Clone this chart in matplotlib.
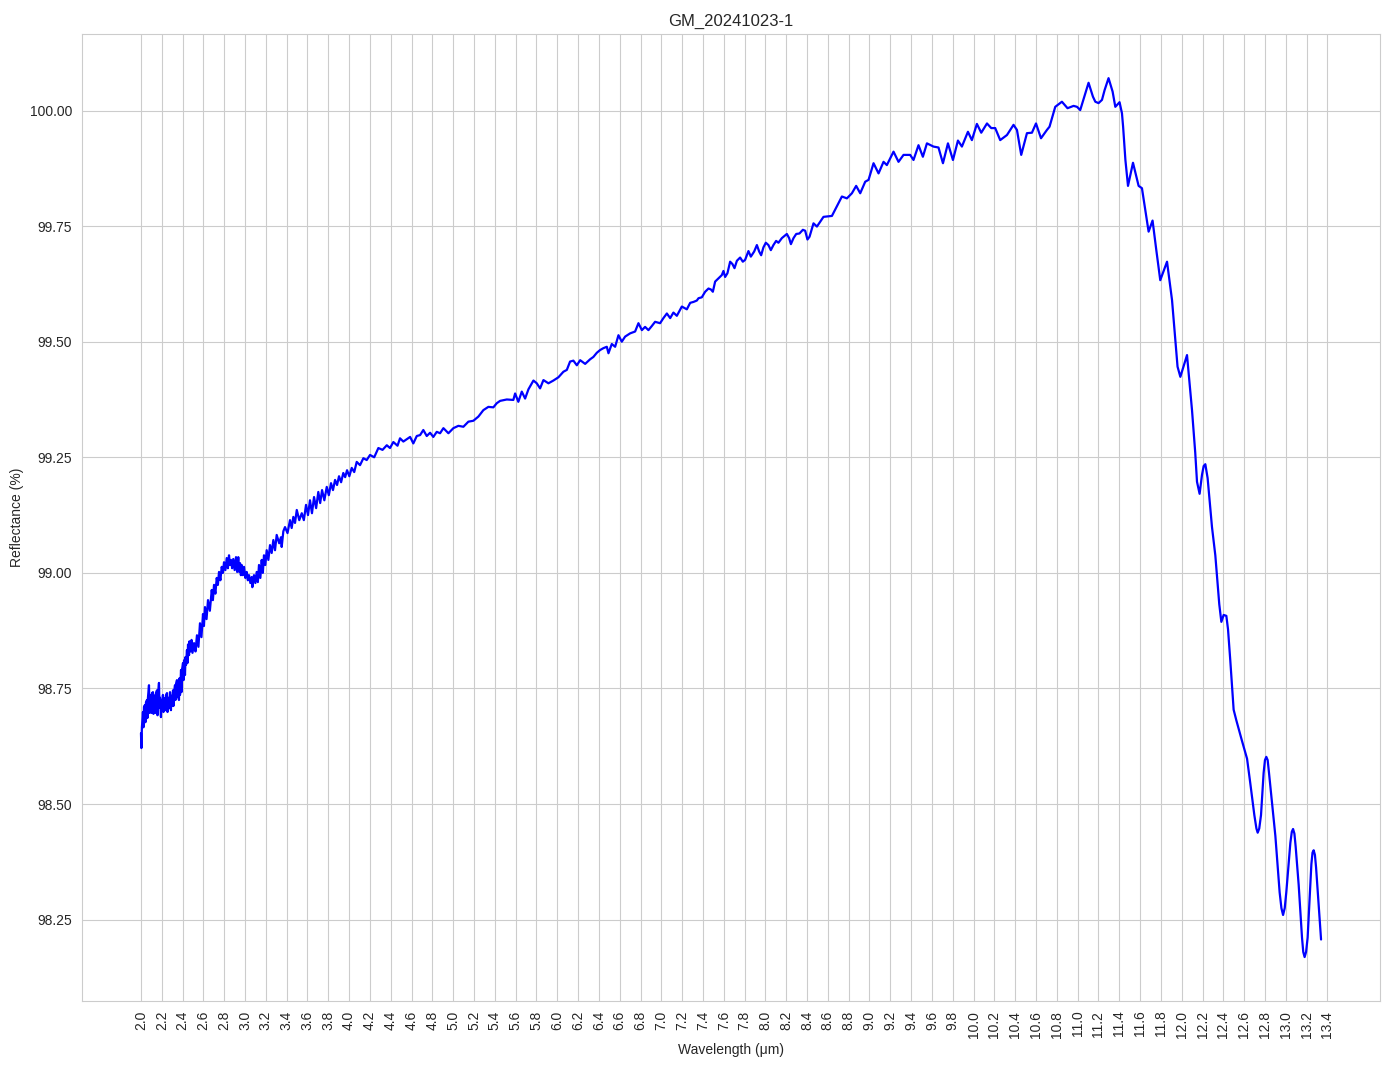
import numpy as np
import matplotlib
matplotlib.use("Agg")
import matplotlib.pyplot as plt
import seaborn as sns

# Wavelength (um) and reflectance (%)
wl_noisy = [2.000, 2.004, 2.009, 2.019, 2.024, 2.029, 2.038, 2.043, 2.048, 2.058, 2.062, 2.067,
            2.077, 2.082, 2.087, 2.096, 2.101, 2.106, 2.115, 2.120, 2.125, 2.135, 2.139, 2.144,
            2.154, 2.159, 2.163, 2.173, 2.178, 2.183, 2.192, 2.197, 2.202, 2.211, 2.216, 2.221,
            2.231, 2.235, 2.240, 2.250, 2.255, 2.260, 2.269, 2.274, 2.279, 2.288, 2.293, 2.298,
            2.308, 2.312, 2.317, 2.327, 2.332, 2.337, 2.346, 2.351, 2.356, 2.365, 2.370, 2.375,
            2.385, 2.389, 2.394, 2.404, 2.409, 2.414, 2.423, 2.428, 2.433, 2.442, 2.447, 2.452,
            2.462, 2.466, 2.476, 2.486, 2.495]
refl_noisy = [98.653, 98.621, 98.666, 98.699, 98.666, 98.710, 98.714, 98.677, 98.720, 98.725, 98.686, 98.730,
              98.757, 98.697, 98.735, 98.736, 98.697, 98.740, 98.742, 98.695, 98.735, 98.731, 98.697, 98.740,
              98.746, 98.692, 98.735, 98.762, 98.708, 98.730, 98.688, 98.725, 98.708, 98.736, 98.699, 98.729,
              98.729, 98.703, 98.735, 98.740, 98.699, 98.730, 98.725, 98.708, 98.742, 98.703, 98.734, 98.712,
              98.746, 98.712, 98.740, 98.757, 98.725, 98.760, 98.768, 98.731, 98.751, 98.725, 98.772, 98.736,
              98.790, 98.742, 98.790, 98.805, 98.768, 98.811, 98.779, 98.818, 98.801, 98.833, 98.805, 98.845,
              98.822, 98.852, 98.830, 98.855, 98.827]

wl_rise = [2.510, 2.524, 2.538, 2.552, 2.567, 2.581, 2.596, 2.605, 2.615, 2.630, 2.644, 2.662,
           2.680, 2.691, 2.702, 2.715, 2.728, 2.739, 2.750, 2.763, 2.776, 2.787, 2.798, 2.811,
           2.824, 2.835, 2.846, 2.855, 2.865, 2.876, 2.887, 2.900, 2.913, 2.924, 2.935, 2.944,
           2.952, 2.960, 2.968, 2.979, 2.990, 3.003, 3.016, 3.027, 3.038, 3.051, 3.064, 3.070,
           3.086, 3.099, 3.112, 3.123, 3.134, 3.147, 3.160, 3.171, 3.182, 3.195, 3.208, 3.224,
           3.240, 3.256, 3.272, 3.288, 3.304, 3.328, 3.345, 3.352, 3.368, 3.384, 3.408, 3.432,
           3.448, 3.464, 3.480, 3.497, 3.521, 3.545, 3.565, 3.586, 3.605, 3.624, 3.643, 3.663,
           3.683, 3.704, 3.722, 3.740, 3.762, 3.785, 3.805, 3.826, 3.845, 3.865, 3.884, 3.903,
           3.923, 3.944, 3.962, 3.980, 4.002, 4.025, 4.049, 4.073, 4.105, 4.137, 4.169, 4.201,
           4.241, 4.281, 4.321, 4.362, 4.393, 4.425, 4.465]
refl_rise = [98.848, 98.830, 98.865, 98.840, 98.891, 98.861, 98.911, 98.885, 98.926, 98.900, 98.941, 98.918,
             98.963, 98.941, 98.974, 98.955, 98.989, 98.974, 99.002, 98.984, 99.013, 99.000, 99.023, 99.006,
             99.032, 99.010, 99.038, 99.017, 99.028, 99.010, 99.030, 99.006, 99.034, 99.002, 99.034, 99.002,
             99.021, 98.995, 99.017, 98.995, 99.013, 98.989, 99.002, 98.984, 98.995, 98.978, 98.991, 98.969,
             98.995, 98.978, 99.002, 98.980, 99.017, 98.989, 99.028, 99.000, 99.038, 99.017, 99.049, 99.028,
             99.060, 99.043, 99.071, 99.049, 99.082, 99.064, 99.077, 99.056, 99.090, 99.099, 99.086, 99.114,
             99.097, 99.121, 99.108, 99.136, 99.114, 99.129, 99.114, 99.147, 99.125, 99.157, 99.129, 99.164,
             99.140, 99.175, 99.151, 99.179, 99.157, 99.186, 99.168, 99.194, 99.179, 99.201, 99.190, 99.209,
             99.196, 99.216, 99.207, 99.222, 99.209, 99.227, 99.218, 99.240, 99.233, 99.248, 99.244, 99.255,
             99.250, 99.270, 99.266, 99.276, 99.270, 99.283, 99.275]

wl_mid = [4.489, 4.521, 4.554, 4.586, 4.617, 4.650, 4.682, 4.713, 4.746, 4.778, 4.809, 4.842,
          4.874, 4.906, 4.954, 5.002, 5.050, 5.098, 5.146, 5.194, 5.242, 5.290, 5.338, 5.386,
          5.419, 5.451, 5.515, 5.578, 5.595, 5.626, 5.659, 5.691, 5.723, 5.771, 5.803, 5.835,
          5.867, 5.915, 5.963, 6.011, 6.059, 6.092, 6.123, 6.155, 6.188, 6.220, 6.268, 6.316,
          6.347, 6.380, 6.412, 6.443, 6.476, 6.492, 6.524, 6.556, 6.588, 6.620, 6.652, 6.700,
          6.748, 6.780, 6.813, 6.844, 6.876, 6.909, 6.940, 6.988, 7.020, 7.053, 7.085, 7.116,
          7.149, 7.197, 7.245, 7.277, 7.309]
refl_mid = [99.291, 99.284, 99.289, 99.294, 99.280, 99.296, 99.298, 99.309, 99.296, 99.303, 99.294, 99.305,
            99.302, 99.313, 99.302, 99.313, 99.318, 99.316, 99.327, 99.329, 99.338, 99.352, 99.359, 99.358,
            99.367, 99.372, 99.375, 99.374, 99.388, 99.370, 99.392, 99.377, 99.397, 99.416, 99.410, 99.399,
            99.417, 99.410, 99.416, 99.423, 99.435, 99.439, 99.457, 99.459, 99.449, 99.460, 99.452, 99.462,
            99.467, 99.476, 99.482, 99.486, 99.489, 99.475, 99.495, 99.489, 99.514, 99.500, 99.511, 99.518,
            99.522, 99.540, 99.525, 99.532, 99.525, 99.534, 99.543, 99.540, 99.551, 99.561, 99.551, 99.563,
            99.556, 99.576, 99.570, 99.584, 99.586]

wl_upper = [7.341, 7.357, 7.389, 7.421, 7.453, 7.476, 7.495, 7.517, 7.549, 7.581, 7.597, 7.613,
            7.635, 7.661, 7.683, 7.703, 7.726, 7.757, 7.783, 7.805, 7.837, 7.860, 7.892, 7.918,
            7.940, 7.959, 7.981, 8.004, 8.029, 8.052, 8.077, 8.103, 8.125, 8.158, 8.206, 8.228,
            8.245, 8.270, 8.296, 8.327, 8.360, 8.382, 8.404, 8.424]
refl_upper = [99.589, 99.594, 99.596, 99.608, 99.615, 99.613, 99.608, 99.630, 99.637, 99.644, 99.653, 99.640,
              99.648, 99.673, 99.668, 99.659, 99.675, 99.682, 99.673, 99.677, 99.696, 99.684, 99.695, 99.709,
              99.695, 99.687, 99.704, 99.714, 99.709, 99.698, 99.709, 99.718, 99.714, 99.724, 99.733, 99.724,
              99.711, 99.724, 99.733, 99.734, 99.742, 99.740, 99.721, 99.727]

wl_top = [8.462, 8.495, 8.558, 8.639, 8.735, 8.783, 8.831, 8.872, 8.911, 8.959, 8.991, 9.039,
          9.087, 9.135, 9.167, 9.231, 9.279, 9.327, 9.391, 9.423, 9.471, 9.513, 9.552, 9.615,
          9.663, 9.706, 9.754, 9.802, 9.850, 9.888, 9.946, 9.984, 10.032, 10.074, 10.129, 10.170,
          10.208, 10.256, 10.321, 10.384, 10.417, 10.458, 10.513, 10.561, 10.600, 10.648, 10.705, 10.730,
          10.785, 10.849, 10.903, 10.961, 10.994, 11.025, 11.064, 11.105, 11.147, 11.170, 11.201, 11.234,
          11.259, 11.297, 11.336, 11.362, 11.403, 11.426]
refl_top = [99.756, 99.749, 99.770, 99.772, 99.814, 99.810, 99.821, 99.837, 99.821, 99.846, 99.850, 99.886,
            99.864, 99.889, 99.882, 99.911, 99.889, 99.904, 99.904, 99.893, 99.925, 99.900, 99.929, 99.922,
            99.920, 99.886, 99.929, 99.893, 99.935, 99.922, 99.954, 99.936, 99.971, 99.952, 99.972, 99.962,
            99.962, 99.936, 99.947, 99.969, 99.958, 99.904, 99.951, 99.952, 99.972, 99.940, 99.958, 99.965,
            100.008, 100.019, 100.005, 100.010, 100.008, 100.001, 100.030, 100.060, 100.030, 100.019, 100.016, 100.023,
            100.044, 100.070, 100.041, 100.008, 100.018, 99.994]

wl_drop = [11.437, 11.459, 11.484, 11.532, 11.586, 11.618, 11.650, 11.682, 11.720, 11.756, 11.794, 11.859,
           11.907, 11.960, 11.987, 12.051, 12.099, 12.130, 12.147, 12.172, 12.195, 12.211, 12.227, 12.249,
           12.291, 12.323, 12.361, 12.381, 12.403, 12.429, 12.445, 12.467, 12.499, 12.525, 12.580, 12.628,
           12.659, 12.698, 12.718, 12.730, 12.745, 12.762, 12.787, 12.800, 12.813, 12.826, 12.839, 12.900,
           12.941, 12.958, 12.974, 12.990, 13.005, 13.044, 13.058, 13.070, 13.083, 13.095, 13.124, 13.156,
           13.168, 13.181, 13.195, 13.210, 13.246, 13.257, 13.268, 13.280, 13.291, 13.339]
refl_drop = [99.965, 99.893, 99.837, 99.887, 99.837, 99.832, 99.785, 99.738, 99.762, 99.698, 99.633, 99.673,
             99.590, 99.446, 99.424, 99.471, 99.352, 99.260, 99.197, 99.171, 99.212, 99.231, 99.235, 99.205,
             99.099, 99.038, 98.932, 98.894, 98.909, 98.907, 98.878, 98.810, 98.704, 98.681, 98.636, 98.598,
             98.545, 98.476, 98.447, 98.438, 98.447, 98.476, 98.567, 98.595, 98.602, 98.595, 98.567, 98.431,
             98.309, 98.275, 98.260, 98.275, 98.309, 98.416, 98.440, 98.446, 98.436, 98.408, 98.325, 98.211,
             98.180, 98.169, 98.180, 98.211, 98.370, 98.395, 98.400, 98.390, 98.363, 98.207]

wavelength = wl_noisy + wl_rise + wl_mid + wl_upper + wl_top + wl_drop
reflectance = refl_noisy + refl_rise + refl_mid + refl_upper + refl_top + refl_drop

sample_name = "GM_20241023-1"
x_ticks = [round(2.0 + 0.2 * i, 1) for i in range(58)]


def plot_spectrum(wl, refl):
    """Plot the reflectance spectrum against wavelength."""
    sns.set_style("whitegrid")
    plt.rcParams['font.family'] = ['Liberation Sans', 'DejaVu Sans']

    fig, ax = plt.subplots(figsize=(13.94, 10.69), dpi=100)
    fig.subplots_adjust(left=0.0588, right=0.99, bottom=0.0636, top=0.968)

    ax.plot(wl, refl, color="blue", linewidth=1.6)
    ax.set_title(sample_name, fontsize=12)
    ax.set_xlabel("Wavelength (μm)")
    ax.set_ylabel("Reflectance (%)")

    ax.set_xticks(x_ticks)
    ax.set_xticklabels([f"{t:.1f}" for t in x_ticks], rotation=90)
    ax.yaxis.set_major_formatter(plt.FormatStrFormatter("%.2f"))
    ax.grid(True)

    fig.savefig("out.png", dpi=100)


plot_spectrum(np.array(wavelength), np.array(reflectance))
